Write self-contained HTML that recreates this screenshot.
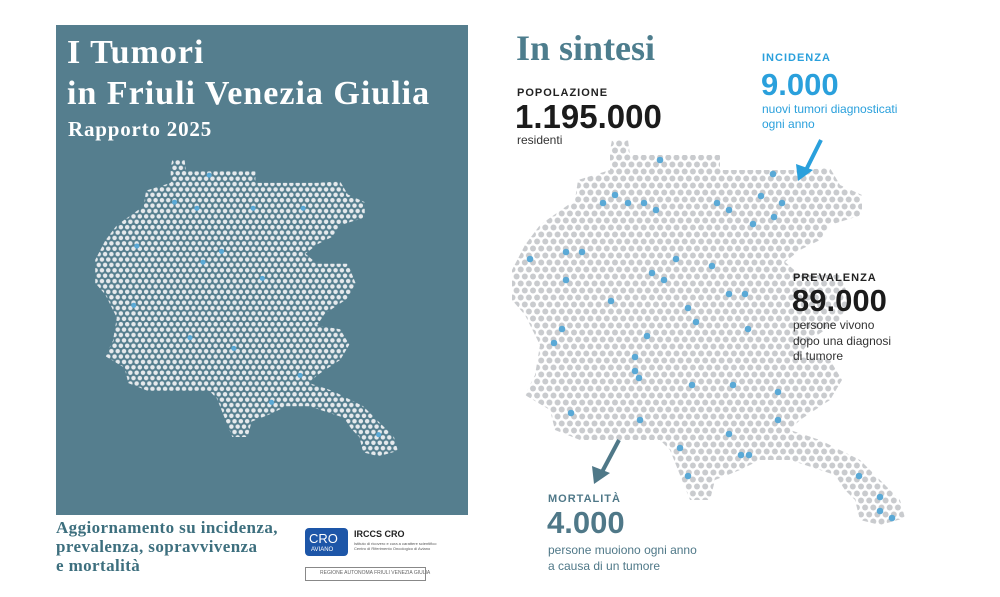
<!DOCTYPE html>
<html><head><meta charset="utf-8"><style>
body{margin:0;width:1000px;height:597px;background:#fff;position:relative;overflow:hidden;font-family:"Liberation Sans",sans-serif}
.a{position:absolute;white-space:nowrap;line-height:1}
.ser{font-family:"Liberation Serif",serif;font-weight:bold}
.nar{font-family:"Liberation Sans",sans-serif;font-weight:bold}
</style></head><body>
<svg width="1000" height="597" style="position:absolute;left:0;top:0">
<defs>
<pattern id="pg" width="8.2" height="14" patternUnits="userSpaceOnUse">
<circle cx="4.1" cy="3.5" r="3.0" fill="#c9cbce"/><circle cx="0" cy="10.5" r="3.0" fill="#c9cbce"/><circle cx="8.2" cy="10.5" r="3.0" fill="#c9cbce"/></pattern>
<pattern id="pw" width="8.2" height="14" patternUnits="userSpaceOnUse">
<circle cx="4.1" cy="3.5" r="2.9" fill="#e6eaed"/><circle cx="0" cy="10.5" r="2.9" fill="#e6eaed"/><circle cx="8.2" cy="10.5" r="2.9" fill="#e6eaed"/></pattern>
<polygon id="map" points="612,140 628,140 630,155 720,155 720,170 800,170 830,168 840,185 862,195 862,215 830,225 820,240 800,250 785,262 800,275 840,275 850,300 840,320 810,340 800,355 830,360 842,380 830,400 800,420 790,430 820,440 860,460 880,480 900,500 905,518 880,525 860,520 855,500 845,490 835,475 790,460 760,460 740,470 715,480 710,500 690,500 680,475 670,450 660,440 580,440 555,430 550,410 525,395 535,375 540,345 525,315 512,300 512,270 525,245 540,225 575,200 578,180 610,170 610,150"/>
</defs>
<rect x="56" y="25" width="412" height="490" fill="#557e8e"/>
<use href="#map" fill="url(#pg)"/>
<g fill="#5aa9d6">
<circle cx="660" cy="160" r="3.3"/><circle cx="773" cy="174" r="3.3"/><circle cx="615" cy="195" r="3.3"/><circle cx="603" cy="203" r="3.3"/><circle cx="628" cy="203" r="3.3"/><circle cx="644" cy="203" r="3.3"/><circle cx="656" cy="210" r="3.3"/><circle cx="717" cy="203" r="3.3"/><circle cx="729" cy="210" r="3.3"/><circle cx="761" cy="196" r="3.3"/><circle cx="782" cy="203" r="3.3"/><circle cx="774" cy="217" r="3.3"/><circle cx="753" cy="224" r="3.3"/><circle cx="566" cy="252" r="3.3"/><circle cx="582" cy="252" r="3.3"/><circle cx="530" cy="259" r="3.3"/><circle cx="676" cy="259" r="3.3"/><circle cx="712" cy="266" r="3.3"/><circle cx="652" cy="273" r="3.3"/><circle cx="566" cy="280" r="3.3"/><circle cx="664" cy="280" r="3.3"/><circle cx="729" cy="294" r="3.3"/><circle cx="745" cy="294" r="3.3"/><circle cx="611" cy="301" r="3.3"/><circle cx="688" cy="308" r="3.3"/><circle cx="696" cy="322" r="3.3"/><circle cx="562" cy="329" r="3.3"/><circle cx="748" cy="329" r="3.3"/><circle cx="554" cy="343" r="3.3"/><circle cx="647" cy="336" r="3.3"/><circle cx="635" cy="357" r="3.3"/><circle cx="635" cy="371" r="3.3"/><circle cx="639" cy="378" r="3.3"/><circle cx="692" cy="385" r="3.3"/><circle cx="733" cy="385" r="3.3"/><circle cx="778" cy="392" r="3.3"/><circle cx="571" cy="413" r="3.3"/><circle cx="640" cy="420" r="3.3"/><circle cx="778" cy="420" r="3.3"/><circle cx="729" cy="434" r="3.3"/><circle cx="680" cy="448" r="3.3"/><circle cx="741" cy="455" r="3.3"/><circle cx="749" cy="455" r="3.3"/><circle cx="688" cy="476" r="3.3"/><circle cx="859" cy="476" r="3.3"/><circle cx="880" cy="497" r="3.3"/><circle cx="880" cy="511" r="3.3"/><circle cx="892" cy="518" r="3.3"/>
</g>
<g transform="translate(-299,52) scale(0.77)">
<use href="#map" fill="url(#pw)"/>
<g fill="#5aa9d6"><circle cx="660" cy="160" r="3.3"/><circle cx="615" cy="195" r="3.3"/><circle cx="644" cy="203" r="3.3"/><circle cx="717" cy="203" r="3.3"/><circle cx="782" cy="203" r="3.3"/><circle cx="566" cy="252" r="3.3"/><circle cx="676" cy="259" r="3.3"/><circle cx="652" cy="273" r="3.3"/><circle cx="729" cy="294" r="3.3"/><circle cx="562" cy="329" r="3.3"/><circle cx="635" cy="371" r="3.3"/><circle cx="692" cy="385" r="3.3"/><circle cx="778" cy="420" r="3.3"/><circle cx="741" cy="455" r="3.3"/><circle cx="880" cy="497" r="3.3"/></g>
</g>
<line x1="821" y1="140" x2="806" y2="170" stroke="#2aa0dc" stroke-width="4"/>
<polygon points="798,181 796,164 813,170" fill="#2aa0dc"/>
<line x1="619" y1="440" x2="602" y2="472" stroke="#4f7888" stroke-width="4"/>
<polygon points="594,484 592,466 610,473" fill="#4f7888"/>
<rect x="305" y="528" width="43" height="28" rx="4" fill="#1d56a8"/>
<rect x="305.5" y="567.5" width="120" height="13" fill="none" stroke="#888"/>
</svg>
<div class="a ser" style="left:67px;top:36px;font-size:34px;color:#fff;letter-spacing:1px">I Tumori</div>
<div class="a ser" style="left:67px;top:77px;font-size:34px;color:#fff;letter-spacing:1px">in Friuli Venezia Giulia</div>
<div class="a ser" style="left:68px;top:119px;font-size:21px;color:#fff;letter-spacing:0.8px">Rapporto 2025</div>
<div class="a ser" style="left:56px;top:518px;font-size:17px;color:#3d6f7e;line-height:19px;letter-spacing:0.4px">Aggiornamento su incidenza,<br>prevalenza, sopravvivenza<br>e mortalità</div>
<div class="a" style="left:309px;top:532px;font-size:13px;color:#fff">CRO</div>
<div class="a" style="left:311px;top:547px;font-size:6px;color:#fff">AVIANO</div>
<div class="a" style="left:354px;top:530px;font-size:9px;font-weight:bold;color:#222">IRCCS CRO</div>
<div class="a" style="left:354px;top:541px;font-size:4px;color:#555;line-height:5px">Istituto di ricovero e cura a carattere scientifico<br>Centro di Riferimento Oncologico di Aviano</div>
<div class="a" style="left:320px;top:571px;font-size:5px;color:#666">REGIONE AUTONOMA FRIULI VENEZIA GIULIA</div>
<div class="a ser" style="left:516px;top:30px;font-size:36px;color:#4d7d8d">In sintesi</div>
<div class="a" style="left:517px;top:88px;font-size:11px;font-weight:bold;color:#222;letter-spacing:1px">POPOLAZIONE</div>
<div class="a nar" style="left:515px;top:100px;font-size:33px;color:#1b1b1b">1.195.000</div>
<div class="a" style="left:517px;top:134px;font-size:12px;color:#333">residenti</div>
<div class="a" style="left:762px;top:53px;font-size:11px;font-weight:bold;color:#2aa0dc;letter-spacing:1px">INCIDENZA</div>
<div class="a nar" style="left:761px;top:69px;font-size:31px;color:#2aa0dc">9.000</div>
<div class="a" style="left:762px;top:102px;font-size:12px;color:#2aa0dc;line-height:15px">nuovi tumori diagnosticati<br>ogni anno</div>
<div class="a" style="left:793px;top:273px;font-size:11px;font-weight:bold;color:#222;letter-spacing:1px">PREVALENZA</div>
<div class="a nar" style="left:792px;top:285px;font-size:31px;color:#1b1b1b">89.000</div>
<div class="a" style="left:793px;top:318px;font-size:12px;color:#333;line-height:15.5px">persone vivono<br>dopo una diagnosi<br>di tumore</div>
<div class="a" style="left:548px;top:494px;font-size:11px;font-weight:bold;color:#4f7888;letter-spacing:1px">MORTALITÀ</div>
<div class="a nar" style="left:547px;top:507px;font-size:31px;color:#4f7888">4.000</div>
<div class="a" style="left:548px;top:542px;font-size:12px;color:#4f7888;line-height:16px">persone muoiono ogni anno<br>a causa di un tumore</div>
</body></html>
